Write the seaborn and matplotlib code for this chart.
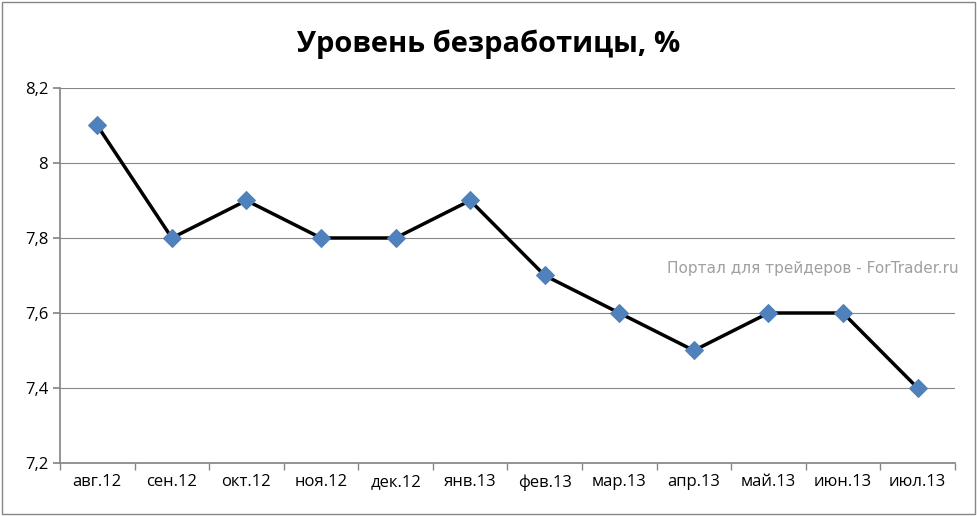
import matplotlib
matplotlib.use("Agg")
import matplotlib.pyplot as plt
import seaborn as sns
import numpy as np
import pandas as pd

months = ["авг.12","сен.12","окт.12","ноя.12","дек.12","янв.13","фев.13","мар.13","апр.13","май.13","июн.13","июл.13"]
values = [8.1,7.8,7.9,7.8,7.8,7.9,7.7,7.6,7.5,7.6,7.6,7.4]
yticks = [7.2,7.4,7.6,7.8,8.0,8.2]
ylabels = ["7,2","7,4","7,6","7,8","8","8,2"]

sns.set_theme(style="white")
plt.rcParams['font.family'] = ['Open Sans', 'DejaVu Sans']
plt.rcParams['text.color'] = 'black'
plt.rcParams['xtick.color'] = 'black'
plt.rcParams['ytick.color'] = 'black'

fig = plt.figure(figsize=(9.77,5.16), dpi=100)
ax = fig.add_axes([0.0614, 0.1027, 0.916, 0.7268])
df = pd.DataFrame({"x": np.arange(len(months)), "y": values})
sns.lineplot(data=df, x="x", y="y", ax=ax, color="black", linewidth=2.5,
             marker="D", markersize=9, markerfacecolor="#4F81BD", markeredgecolor="#4F81BD")
ax.set_xlim(-0.5, len(months)-0.5)
ax.set_ylim(7.2, 8.2)
ax.set_yticks(yticks)
ax.set_yticklabels(ylabels, fontsize=12)
ax.set_xticks(np.arange(len(months)))
ax.set_xticklabels(months, fontsize=12)
ax.set_xticks(np.arange(len(months)+1)-0.5, minor=True)
ax.tick_params(axis='x', which='major', length=0, pad=8)
ax.tick_params(axis='x', which='minor', length=5, color="#868686", bottom=True)
ax.tick_params(axis='y', length=5, color="#868686", left=True)
ax.yaxis.grid(True, color="#868686", linewidth=0.8)
ax.set_xlabel(""); ax.set_ylabel("")
for s in ["top","right"]:
    ax.spines[s].set_visible(False)
for s in ["left","bottom"]:
    ax.spines[s].set_color("#868686")
fig.text(0.5, 0.915, "Уровень безработицы, %", ha="center", va="center", fontsize=21, fontweight="bold", color="black")
fig.text(0.832, 0.48, "Портал для трейдеров - ForTrader.ru", ha="center", va="center", fontsize=11,
         color="#A0A0A0", family="DejaVu Sans")
fig.patches.append(plt.Rectangle((0.002,0.003),0.996,0.994, transform=fig.transFigure, fill=False, edgecolor="#868686", linewidth=1))
fig.savefig("out.png", dpi=100)
